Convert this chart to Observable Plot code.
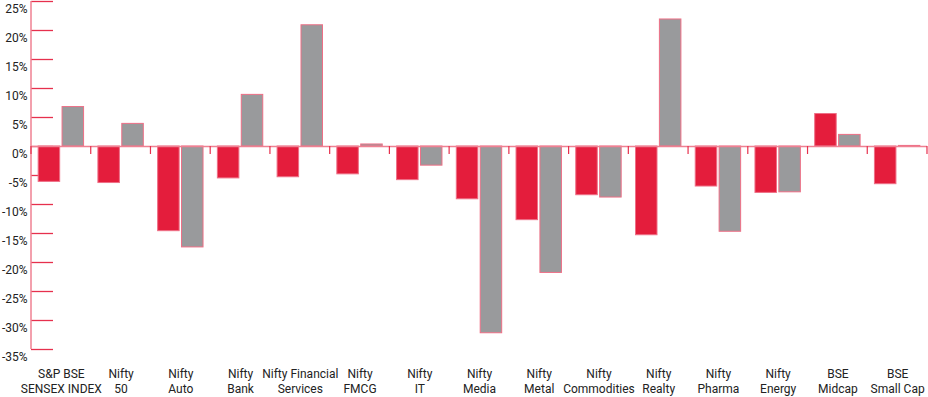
<!DOCTYPE html>
<html><head><meta charset="utf-8">
<script src="https://cdn.jsdelivr.net/npm/d3@7"></script>
<script src="https://cdn.jsdelivr.net/npm/@observablehq/plot@0.6"></script>
<style>body{margin:0;background:#fff;font-family:Roboto,sans-serif}</style>
</head><body><div id="chart"></div>
<script>
const categories = ["S&P BSE SENSEX INDEX","Nifty 50","Nifty Auto","Nifty Bank","Nifty Financial Services","Nifty FMCG","Nifty IT","Nifty Media","Nifty Metal","Nifty Commodities","Nifty Realty","Nifty Pharma","Nifty Energy","BSE Midcap","BSE Small Cap"];
const categoryLabels = ["S&P BSE\nSENSEX INDEX","Nifty\n50","Nifty\nAuto","Nifty\nBank","Nifty Financial\nServices","Nifty\nFMCG","Nifty\nIT","Nifty\nMedia","Nifty\nMetal","Nifty\nCommodities","Nifty\nRealty","Nifty\nPharma","Nifty\nEnergy","BSE\nMidcap","BSE\nSmall Cap"];
const series = ["Series A", "Series B"];
const seriesA = [-6.1, -6.3, -14.6, -5.5, -5.3, -4.8, -5.8, -9.1, -12.7, -8.4, -15.3, -6.9, -8.0, 5.6, -6.5];
const seriesB = [6.8, 3.9, -17.4, 8.9, 20.9, 0.35, -3.3, -32.2, -21.8, -8.8, 21.9, -14.7, -7.9, 2.0, 0.1];
const yTicks = [-35, -30, -25, -20, -15, -10, -5, 0, 5, 10, 15, 20, 25];

const labelMap = new Map(categories.map((c, i) => [c, categoryLabels[i]]));
const rows = categories.flatMap((c, i) => [
  {category: c, series: series[0], value: seriesA[i]},
  {category: c, series: series[1], value: seriesB[i]}
]);

const chart = Plot.plot({
  width: 928, height: 397,
  marginLeft: 31, marginRight: 1, marginTop: 1, marginBottom: 48,
  style: {fontFamily: "Roboto", fontSize: "12px", color: "#222", background: "#fff", overflow: "visible"},
  fx: {domain: categories, padding: 0, round: false, label: null},
  x: {domain: series, paddingInner: 0.1, paddingOuter: 0.3, round: false, axis: null},
  y: {domain: [-35, 25], label: null},
  color: {domain: series, range: ["#e41d3c", "#999a9c"]},
  marks: [
    Plot.axisFx({anchor: "bottom", tickSize: 0, tickPadding: 18, tickFormat: d => labelMap.get(d), lineHeight: 1.25, fontSize: 12, fill: "#222", label: null}),
    Plot.axisY({ticks: yTicks, tickSize: -22, stroke: "#e6304d", strokeWidth: 1.3, tickFormat: () => "", label: null}),
    Plot.axisY({ticks: yTicks, tickSize: 0, tickPadding: 4, dy: 8, tickFormat: d => `${d}%`, fill: "#222", label: null}),
    Plot.barY(rows, {fx: "category", x: "series", y: "value", fill: "series", stroke: "#ee6f86", strokeWidth: 1}),
    Plot.ruleY([0], {stroke: "#ef8192", strokeWidth: 1.5})
  ]
});
document.getElementById("chart").append(chart);

// axis line and category boundary ticks, positioned through Plot's scales
const fxS = chart.scale("fx"), yS = chart.scale("y");
const svg = d3.select(chart);
const x0 = fxS.apply(categories[0]);
svg.append("line").attr("x1", x0).attr("x2", x0).attr("y1", yS.apply(25)).attr("y2", yS.apply(-35))
  .attr("stroke", "#ef8192").attr("stroke-width", 1.5);
const bounds = categories.map(c => fxS.apply(c)).concat([fxS.apply(categories[categories.length - 1]) + fxS.bandwidth]);
const z = yS.apply(0);
svg.selectAll("line.bnd").data(bounds).join("line").attr("class", "bnd")
  .attr("x1", d => d).attr("x2", d => d).attr("y1", z).attr("y2", z + 8)
  .attr("stroke", "#e6304d").attr("stroke-width", 1.2);
</script></body></html>
